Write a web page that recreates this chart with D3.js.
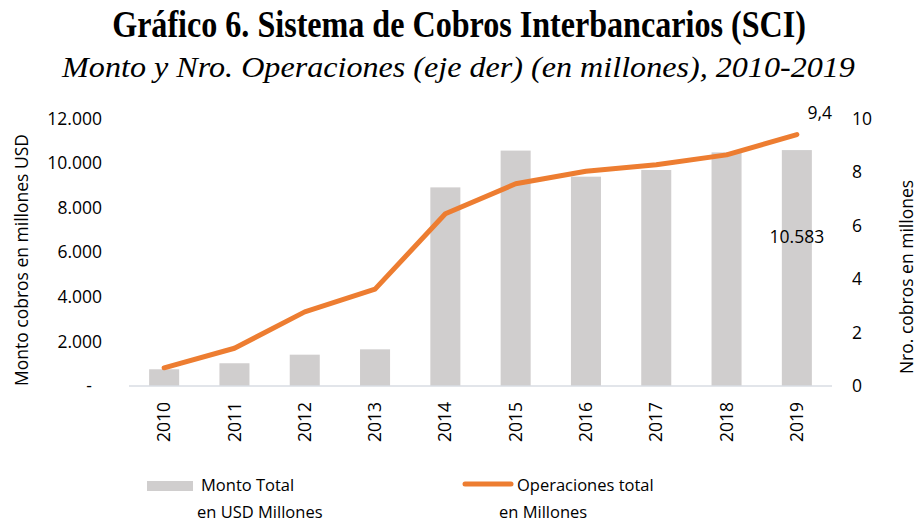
<!DOCTYPE html>
<html>
<head>
<meta charset="utf-8">
<script src="https://cdn.jsdelivr.net/npm/d3@7"></script>
<style>
  body { margin: 0; background: #fff; }
  text { font-family: "Open Sans", sans-serif; fill: #000; }
</style>
</head>
<body>
<div></div>
<script>
var outerWidth  = 917;
var outerHeight = 525;

var years    = ["2010","2011","2012","2013","2014","2015","2016","2017","2018","2019"];
var monto    = [750, 1020, 1405, 1645, 8910, 10560, 9390, 9690, 10480, 10583];
var opers    = [0.68, 1.41, 2.77, 3.62, 6.44, 7.56, 8.03, 8.27, 8.64, 9.4];
var leftTicks  = [0, 2000, 4000, 6000, 8000, 10000, 12000];
var rightTicks = [0, 2, 4, 6, 8, 10];

var plot = { left: 129, right: 832, top: 118.5, bottom: 386 };
var fs = "17.5px";

var svg = d3.select("div").append("svg")
  .attr("width", outerWidth)
  .attr("height", outerHeight);

// titles: condensed serif, squeezed horizontally to the original width
function condensed(txt, cx, y, size, width, bold, italic){
  var t = svg.append("text")
    .attr("text-anchor", "middle")
    .style("font-family", "'Liberation Serif', serif")
    .style("font-weight", bold ? "bold" : "normal")
    .style("font-style", italic ? "italic" : "normal")
    .style("font-size", size + "px")
    .text(txt);
  var k = width / t.node().getComputedTextLength();
  t.attr("transform", "translate(" + cx + "," + y + ") scale(" + k + ",1)");
}
condensed("Gráfico 6. Sistema de Cobros Interbancarios (SCI)", 459, 37, 38, 694, true, false);
condensed("Monto y Nro. Operaciones (eje der) (en millones), 2010-2019", 458.5, 77, 30, 793, false, true);

// scales
var xScale = d3.scaleBand().domain(years)
  .range([plot.left, plot.right]).paddingInner(0.573).paddingOuter(0.2865);
var yLeft  = d3.scaleLinear().domain([0, 12000]).range([plot.bottom, plot.top]);
var yRight = d3.scaleLinear().domain([0, 10]).range([plot.bottom, plot.top]);

// bars
svg.selectAll("rect.bar").data(monto).enter().append("rect")
  .attr("class", "bar")
  .attr("x", function (d, i){ return xScale(years[i]); })
  .attr("width", xScale.bandwidth())
  .attr("y", function (d){ return yLeft(d); })
  .attr("height", function (d){ return plot.bottom - yLeft(d); })
  .attr("fill", "#d0cece");

// baseline
svg.append("line")
  .attr("x1", plot.left).attr("x2", plot.right)
  .attr("y1", plot.bottom).attr("y2", plot.bottom)
  .attr("stroke", "#d9dde3").attr("stroke-width", 1.5);

// left axis
var fmt = function (v){ return v === 0 ? "-" : d3.format(",")(v).replace(/,/g, "."); };
var gl = svg.append("g")
  .attr("transform", "translate(110,0)")
  .call(d3.axisLeft(yLeft).tickValues(leftTicks).tickSize(0).tickPadding(8).tickFormat(fmt));
gl.select(".domain").remove();
gl.selectAll("text").style("font-size", fs).style("font-family", "'Open Sans', sans-serif");
gl.selectAll(".tick").filter(function (d){ return d === 0; }).select("text").attr("dx", -10);

// right axis
var gr = svg.append("g")
  .attr("transform", "translate(844,0)")
  .call(d3.axisRight(yRight).tickValues(rightTicks).tickSize(0).tickPadding(8));
gr.select(".domain").remove();
gr.selectAll("text").style("font-size", fs).style("font-family", "'Open Sans', sans-serif");

// x axis labels
var gx = svg.append("g")
  .attr("transform", "translate(0," + plot.bottom + ")")
  .call(d3.axisBottom(xScale).tickSize(0).tickPadding(0));
gx.select(".domain").remove();
gx.selectAll("text")
  .style("font-size", fs).style("font-family", "'Open Sans', sans-serif")
  .attr("transform", "rotate(-90)")
  .attr("text-anchor", "end")
  .attr("x", -16).attr("y", 0).attr("dy", "0.35em");

// axis titles
svg.append("text")
  .attr("transform", "translate(28,260) rotate(-90)")
  .attr("text-anchor", "middle")
  .style("font-size", fs)
  .text("Monto cobros en millones USD");

svg.append("text")
  .attr("transform", "translate(913,277) rotate(-90)")
  .attr("text-anchor", "middle")
  .style("font-size", fs)
  .text("Nro. cobros en millones");

// line
var line = d3.line()
  .x(function (d, i){ return xScale(years[i]) + xScale.bandwidth() / 2; })
  .y(function (d){ return yRight(d); });

svg.append("path")
  .datum(opers)
  .attr("d", line)
  .attr("fill", "none")
  .attr("stroke", "#ed7d31")
  .attr("stroke-width", 5)
  .attr("stroke-linecap", "round")
  .attr("stroke-linejoin", "round");

// data labels
var last = years.length - 1;
var cxLast = xScale(years[last]) + xScale.bandwidth() / 2;
svg.append("text")
  .attr("x", cxLast + 23).attr("y", yRight(opers[last]) - 22)
  .attr("text-anchor", "middle").attr("dy", "0.35em")
  .style("font-size", fs)
  .text(d3.format(".1f")(opers[last]).replace(".", ","));

svg.append("text")
  .attr("x", cxLast).attr("y", 237)
  .attr("text-anchor", "middle").attr("dy", "0.35em")
  .style("font-size", fs)
  .text(fmt(monto[last]));

// legend
var lg = svg.append("g");
lg.append("rect")
  .attr("x", 147).attr("y", 481).attr("width", 46).attr("height", 10)
  .attr("fill", "#d0cece");
lg.append("text").attr("x", 201).attr("y", 491).style("font-size", "16.5px").text("Monto Total");
lg.append("text").attr("x", 197).attr("y", 518).style("font-size", "16.5px").text("en USD Millones");

lg.append("line")
  .attr("x1", 465).attr("x2", 511).attr("y1", 484).attr("y2", 484)
  .attr("stroke", "#ed7d31").attr("stroke-width", 5).attr("stroke-linecap", "round");
lg.append("text").attr("x", 517).attr("y", 491).style("font-size", "16.5px").text("Operaciones total");
lg.append("text").attr("x", 499).attr("y", 518).style("font-size", "16.5px").text("en Millones");
</script>
</body>
</html>
